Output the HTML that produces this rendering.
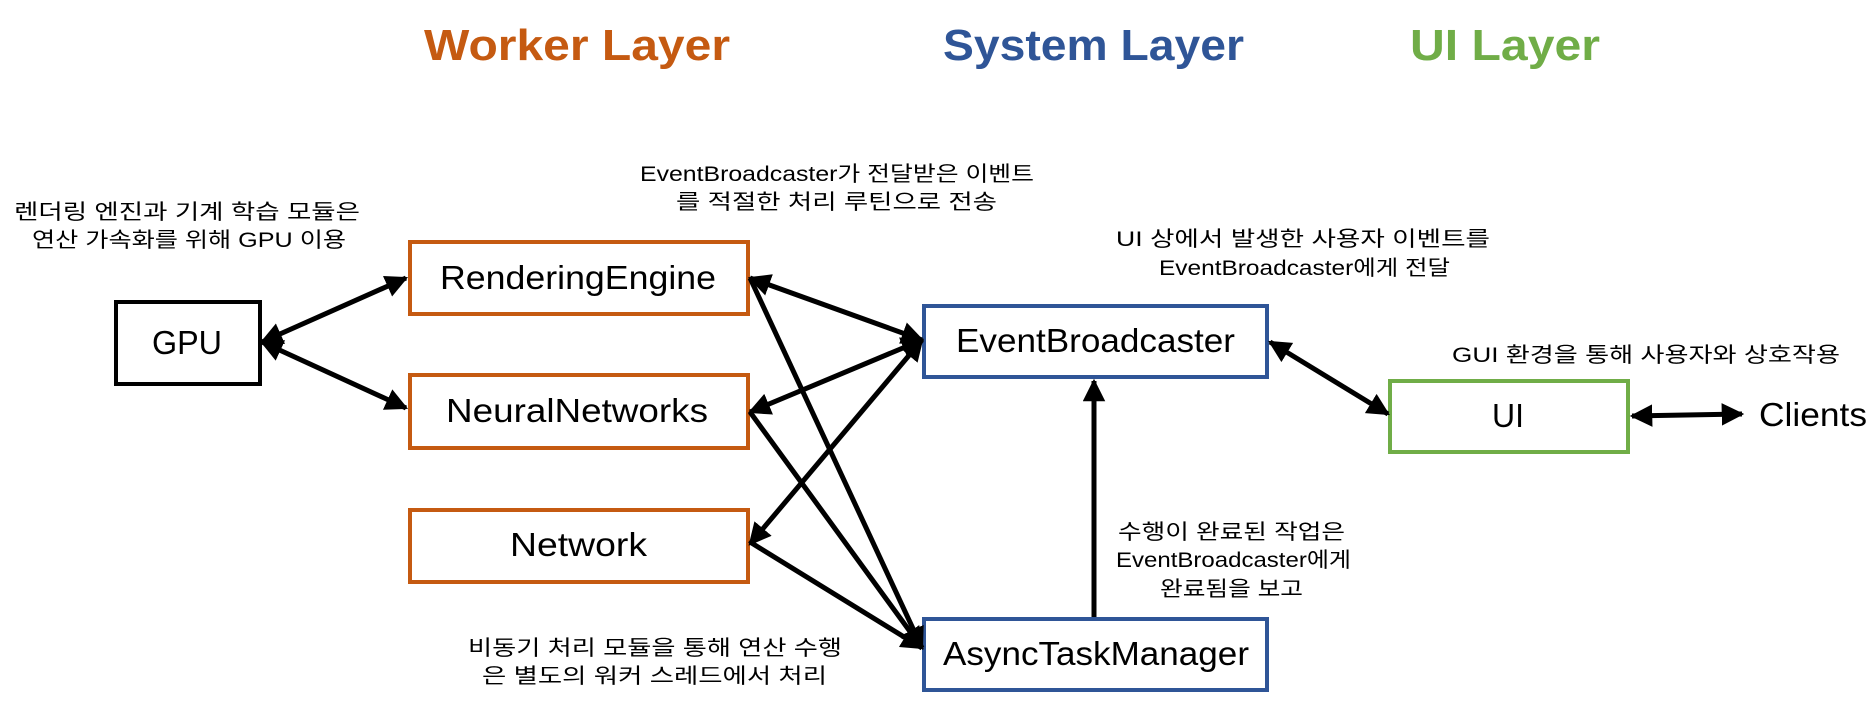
<!DOCTYPE html>
<html><head><meta charset="utf-8"><style>
html,body{margin:0;padding:0;background:#fff;}
svg{display:block;}
text{font-family:"Liberation Sans","Noto Sans CJK KR",sans-serif;}
.t{font-size:21px;fill:#000;}
.b{font-size:33px;fill:#000;}
.h{font-size:44px;font-weight:bold;}
</style></head><body>
<svg width="1870" height="707" viewBox="0 0 1870 707" xmlns="http://www.w3.org/2000/svg">
<defs>
<marker id="a" viewBox="0 0 10 10" refX="9" refY="5" markerWidth="4.5" markerHeight="4.5" orient="auto-start-reverse" markerUnits="strokeWidth">
<path d="M0,0 L10,5 L0,10 z" fill="#000"/></marker>
</defs>
<text class="h" x="424" y="60" textLength="306" lengthAdjust="spacingAndGlyphs" fill="#C55A11">Worker Layer</text>
<text class="h" x="943" y="60" textLength="301" lengthAdjust="spacingAndGlyphs" fill="#2F5597">System Layer</text>
<text class="h" x="1410" y="60" textLength="190" lengthAdjust="spacingAndGlyphs" fill="#70AD47">UI Layer</text>

<g fill="#fff" stroke-width="4">
<rect x="116" y="302" width="144" height="82" stroke="#000"/>
<rect x="410" y="242" width="338" height="72" stroke="#C55A11"/>
<rect x="410" y="375" width="338" height="73" stroke="#C55A11"/>
<rect x="410" y="510" width="338" height="72" stroke="#C55A11"/>
<rect x="924" y="306" width="343" height="71" stroke="#2F5597"/>
<rect x="924" y="619" width="343" height="71" stroke="#2F5597"/>
<rect x="1390" y="381" width="238" height="71" stroke="#70AD47"/>
</g>
<text class="b" x="152" y="354" textLength="70" lengthAdjust="spacingAndGlyphs">GPU</text>
<text class="b" x="440" y="289" textLength="276" lengthAdjust="spacingAndGlyphs">RenderingEngine</text>
<text class="b" x="446" y="422" textLength="262" lengthAdjust="spacingAndGlyphs">NeuralNetworks</text>
<text class="b" x="510" y="556" textLength="137" lengthAdjust="spacingAndGlyphs">Network</text>
<text class="b" x="956" y="352" textLength="279" lengthAdjust="spacingAndGlyphs">EventBroadcaster</text>
<text class="b" x="943" y="665" textLength="306" lengthAdjust="spacingAndGlyphs">AsyncTaskManager</text>
<text class="b" x="1492" y="427" textLength="32" lengthAdjust="spacingAndGlyphs">UI</text>
<text class="b" x="1759" y="426" textLength="108" lengthAdjust="spacingAndGlyphs">Clients</text>

<g stroke="#000" stroke-width="5" fill="none">
<line x1="262" y1="342" x2="406" y2="278" marker-start="url(#a)" marker-end="url(#a)"/>
<line x1="262" y1="342" x2="406" y2="408" marker-start="url(#a)" marker-end="url(#a)"/>
<line x1="750" y1="278" x2="922" y2="340" marker-start="url(#a)" marker-end="url(#a)"/>
<line x1="750" y1="412" x2="922" y2="340" marker-start="url(#a)" marker-end="url(#a)"/>
<line x1="750" y1="544" x2="922" y2="340" marker-start="url(#a)" marker-end="url(#a)"/>
<line x1="750" y1="278" x2="922" y2="648" marker-end="url(#a)"/>
<line x1="750" y1="412" x2="922" y2="648" marker-end="url(#a)"/>
<line x1="750" y1="542" x2="922" y2="648" marker-end="url(#a)"/>
<line x1="1094" y1="617" x2="1094" y2="381" marker-end="url(#a)"/>
<line x1="1270" y1="342" x2="1388" y2="414" marker-start="url(#a)" marker-end="url(#a)"/>
<line x1="1632" y1="416" x2="1742" y2="414" marker-start="url(#a)" marker-end="url(#a)"/>
</g>

<text class="t" x="14" y="219" textLength="346" lengthAdjust="spacingAndGlyphs">렌더링 엔진과 기계 학습 모듈은</text>
<text class="t" x="32" y="247" textLength="314" lengthAdjust="spacingAndGlyphs">연산 가속화를 위해 GPU 이용</text>
<text class="t" x="640" y="181" textLength="394" lengthAdjust="spacingAndGlyphs">EventBroadcaster가 전달받은 이벤트</text>
<text class="t" x="676" y="209" textLength="321" lengthAdjust="spacingAndGlyphs">를 적절한 처리 루틴으로 전송</text>
<text class="t" x="1116" y="246" textLength="374" lengthAdjust="spacingAndGlyphs">UI 상에서 발생한 사용자 이벤트를</text>
<text class="t" x="1159" y="275" textLength="291" lengthAdjust="spacingAndGlyphs">EventBroadcaster에게 전달</text>
<text class="t" x="1452" y="362" textLength="388" lengthAdjust="spacingAndGlyphs">GUI 환경을 통해 사용자와 상호작용</text>
<text class="t" x="1118" y="539" textLength="227" lengthAdjust="spacingAndGlyphs">수행이 완료된 작업은</text>
<text class="t" x="1116" y="567" textLength="235" lengthAdjust="spacingAndGlyphs">EventBroadcaster에게</text>
<text class="t" x="1160" y="596" textLength="143" lengthAdjust="spacingAndGlyphs">완료됨을 보고</text>
<text class="t" x="468" y="655" textLength="374" lengthAdjust="spacingAndGlyphs">비동기 처리 모듈을 통해 연산 수행</text>
<text class="t" x="482" y="683" textLength="345" lengthAdjust="spacingAndGlyphs">은 별도의 워커 스레드에서 처리</text>
</svg>
</body></html>
